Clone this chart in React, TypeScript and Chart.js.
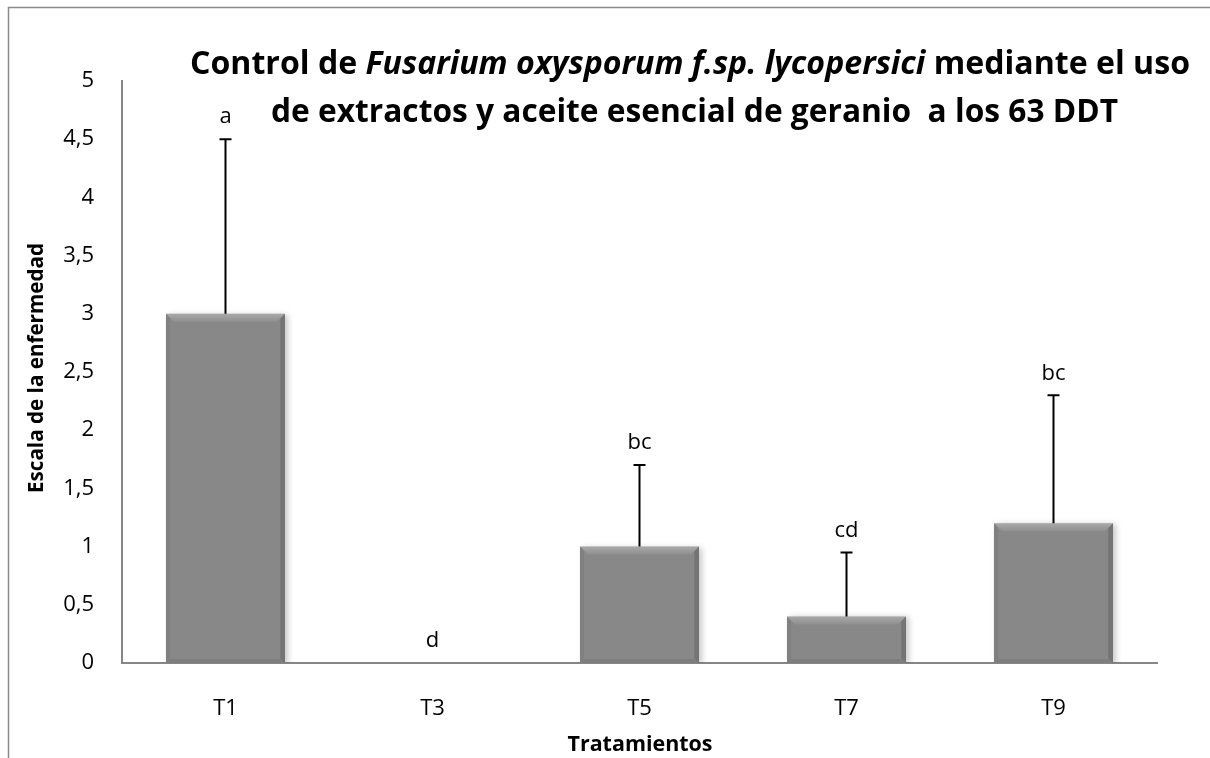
import React, { useEffect, useRef } from "react";
import { Chart, registerables } from "chart.js";

Chart.register(...registerables);

const categories = ["T1", "T3", "T5", "T7", "T9"];
const means = [3, 0, 1, 0.4, 1.2];
const errors = [1.5, 0, 0.7, 0.55, 1.1];
const letters = ["a", "d", "bc", "cd", "bc"];
const yMin = 0;
const yMax = 5;
const yStep = 0.5;

const titleLine1 = [
  { text: "Control de ", italic: false },
  { text: "Fusarium oxysporum f.sp. lycopersici", italic: true },
  { text: " mediante el uso", italic: false },
];
const titleLine2 = [{ text: "de extractos y aceite esencial de geranio  a los 63 DDT", italic: false }];
const yTitle = "Escala de la enfermedad";
const xTitle = "Tratamientos";

const FONT = "'Open Sans', 'DejaVu Sans', sans-serif";

function drawSegments(ctx: CanvasRenderingContext2D, segs: { text: string; italic: boolean }[], size: number, cx: number, baseline: number, targetW: number) {
  let total = 0;
  const widths: number[] = [];
  for (const s of segs) {
    ctx.font = `${s.italic ? "italic " : ""}bold ${size}px ${FONT}`;
    const w = ctx.measureText(s.text).width;
    widths.push(w);
    total += w;
  }
  const k = targetW / total;
  ctx.save();
  ctx.translate(cx - targetW / 2, baseline);
  ctx.scale(k, 1);
  ctx.fillStyle = "#000";
  ctx.textBaseline = "alphabetic";
  ctx.textAlign = "left";
  let x = 0;
  segs.forEach((s, i) => {
    ctx.font = `${s.italic ? "italic " : ""}bold ${size}px ${FONT}`;
    ctx.fillText(s.text, x, 0);
    x += widths[i];
  });
  ctx.restore();
}

const decorPlugin = {
  id: "decor",
  beforeDraw(chart: any) {
    const ctx = chart.ctx as CanvasRenderingContext2D;
    ctx.save();
    ctx.strokeStyle = "#8a8a8a";
    ctx.lineWidth = 1.5;
    ctx.beginPath();
    ctx.moveTo(8.5, 758);
    ctx.lineTo(8.5, 7.5);
    ctx.lineTo(1210, 7.5);
    ctx.stroke();
    ctx.restore();
  },
  beforeDatasetsDraw(chart: any) {
    const ctx = chart.ctx as CanvasRenderingContext2D;
    ctx.save();
    ctx.shadowColor = "rgba(0,0,0,0.22)";
    ctx.shadowBlur = 6;
    ctx.shadowOffsetX = 3;
    ctx.shadowOffsetY = 1;
  },
  afterDatasetsDraw(chart: any) {
    const ctx = chart.ctx as CanvasRenderingContext2D;
    ctx.restore();
    const meta = chart.getDatasetMeta(0);
    const yScale = chart.scales.y;
    meta.data.forEach((bar: any, i: number) => {
      const w = bar.width;
      const l = bar.x - w / 2;
      const r = bar.x + w / 2;
      const t = bar.y;
      const b = bar.base;
      const h = b - t;
      if (h > 2) {
        const bv = Math.min(8, h / 3);
        const poly = (pts: number[][], fill: string | CanvasGradient) => {
          ctx.beginPath();
          ctx.moveTo(pts[0][0], pts[0][1]);
          for (let j = 1; j < pts.length; j++) ctx.lineTo(pts[j][0], pts[j][1]);
          ctx.closePath();
          ctx.fillStyle = fill;
          ctx.fill();
        };
        ctx.save();
        const g = ctx.createLinearGradient(0, t, 0, t + bv);
        g.addColorStop(0, "rgba(255,255,255,0.28)");
        g.addColorStop(1, "rgba(255,255,255,0.06)");
        poly([[l, t], [r, t], [r - bv, t + bv], [l + bv, t + bv]], g);
        poly([[r, t], [r, b], [r - bv * 0.6, b - bv * 0.6], [r - bv * 0.6, t + bv * 0.6]], "rgba(0,0,0,0.14)");
        poly([[l, t], [l + bv * 0.5, t + bv * 0.5], [l + bv * 0.5, b - bv * 0.5], [l, b]], "rgba(0,0,0,0.06)");
        poly([[l, b], [l + bv * 0.5, b - bv * 0.5], [r - bv * 0.5, b - bv * 0.5], [r, b]], "rgba(0,0,0,0.07)");
        ctx.restore();
      }
      const topVal = means[i] + errors[i];
      const yTop = yScale.getPixelForValue(topVal);
      ctx.save();
      if (errors[i] > 0) {
        ctx.strokeStyle = "#000";
        ctx.lineWidth = 2;
        ctx.beginPath();
        ctx.moveTo(bar.x, t);
        ctx.lineTo(bar.x, yTop);
        ctx.moveTo(bar.x - 6, yTop);
        ctx.lineTo(bar.x + 6, yTop);
        ctx.stroke();
      }
      ctx.fillStyle = "#000";
      ctx.font = `22px ${FONT}`;
      ctx.textAlign = "center";
      ctx.textBaseline = "middle";
      ctx.fillText(letters[i], bar.x, yTop - 22);
      ctx.restore();
    });
  },
  afterDraw(chart: any) {
    const ctx = chart.ctx as CanvasRenderingContext2D;
    drawSegments(ctx, titleLine1, 32, 690, 74, 1000);
    drawSegments(ctx, titleLine2, 32, 694.5, 122, 847);
    ctx.save();
    ctx.translate(43, 368);
    ctx.rotate(-Math.PI / 2);
    drawSegments(ctx, [{ text: yTitle, italic: false }], 22, 0, 0, 250);
    ctx.restore();
    drawSegments(ctx, [{ text: xTitle, italic: false }], 22, 640, 751, 145);
  },
};

export default function App() {
  const ref = useRef<HTMLCanvasElement | null>(null);
  useEffect(() => {
    if (!ref.current) return;
    const chart = new Chart(ref.current, {
      type: "bar",
      data: {
        labels: categories,
        datasets: [
          {
            data: means,
            backgroundColor: "#888888",
            borderWidth: 0,
            categoryPercentage: 1,
            barPercentage: 0.575,
          },
        ],
      },
      options: {
        animation: false,
        responsive: false,
        devicePixelRatio: 1,
        layout: { padding: { left: 0, top: 81, right: 53, bottom: 0 } },
        plugins: { legend: { display: false }, tooltip: { enabled: false }, title: { display: false } },
        scales: {
          x: {
            grid: { display: false },
            border: { display: true, color: "#868686", width: 2 },
            ticks: { color: "#000", font: { family: FONT, size: 22 }, padding: 25 },
            afterFit: (s: any) => {
              s.height = 95;
            },
          },
          y: {
            min: yMin,
            max: yMax,
            grid: { display: false },
            border: { display: true, color: "#868686", width: 2 },
            ticks: {
              stepSize: yStep,
              color: "#000",
              font: { family: FONT, size: 22 },
              padding: 20,
              callback: (v: any) => String(v).replace(".", ","),
            },
            afterFit: (s: any) => {
              s.width = 122;
            },
          },
        },
      },
      plugins: [decorPlugin],
    });
    return () => chart.destroy();
  }, []);
  return (
    <div style={{ position: "absolute", left: 0, top: 0, width: 1210, height: 758, background: "#fff" }}>
      <canvas ref={ref} width={1210} height={758} style={{ display: "block" }} />
    </div>
  );
}
